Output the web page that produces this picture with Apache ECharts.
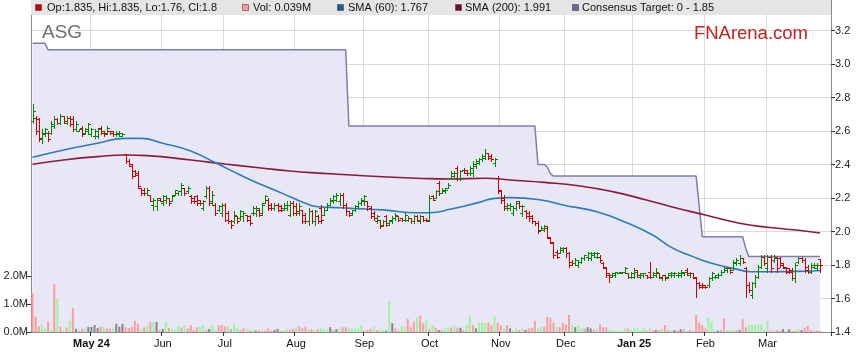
<!DOCTYPE html>
<html><head><meta charset="utf-8">
<script src="https://cdn.jsdelivr.net/npm/echarts@6/dist/echarts.min.js"></script>
<style>html,body{margin:0;padding:0;background:#fff}#c{width:859px;height:363px}</style>
</head><body><div id="c"></div>
<script>
// ---- categories: trading-day slots starting 2024-04-04 ----
const startDate = [2024, 3, 4];
const slotCount = 258;
const monthNames = ['Jan','Feb','Mar','Apr','May','Jun','Jul','Aug','Sep','Oct','Nov','Dec'];

// ---- OHLC values ----
const open = [
2.66,2.68,2.67,2.55,2.58,2.59,2.59,2.63,2.67,2.65, 2.69,2.65,2.68,2.67,2.61,2.60,2.62,2.59,2.60,2.58,
2.57,2.57,2.62,2.60,2.59,2.60,2.60,2.58,2.58,2.57, 2.46,2.42,2.39,2.36,2.35,2.26,2.25,2.23,2.22,2.16,
2.15,2.20,2.17,2.19,2.20,2.18,2.22,2.23,2.24,2.26, 2.24,2.21,2.20,2.21,2.19,2.14,2.21,2.26,2.18,2.16,
2.13,2.11,2.16,2.11,2.06,2.06,2.09,2.08,2.09,2.10, 2.09,2.11,2.11,2.13,2.11,2.17,2.19,2.16,2.14,2.16,
2.15,2.14,2.14,2.10,2.17,2.15,2.11,2.13,2.10,2.06, 2.12,2.06,2.09,2.14,2.10,2.13,2.16,2.18,2.19,2.18,
2.22,2.16,2.12,2.11,2.13,2.15,2.17,2.18,2.18,2.14, 2.11,2.06,2.07,2.04,2.09,2.05,2.06,2.08,2.09,2.08,
2.07,2.07,2.08,2.06,2.09,2.06,2.09,2.07,2.07,2.21, 2.20,2.29,2.23,2.24,2.26,2.32,2.33,2.38,2.32,2.37,
2.37,2.35,2.35,2.39,2.41,2.43,2.44,2.47,2.45,2.41, 2.32,2.24,2.20,2.14,2.14,2.11,2.14,2.18,2.11,2.12,
2.11,2.09,2.06,2.05,2.01,2.01,2.02,1.96,1.93,1.88, 1.87,1.89,1.90,1.87,1.82,1.81,1.80,1.82,1.84,1.85,
1.84,1.86,1.85,1.85,1.81,1.78,1.75,1.74,1.74,1.75, 1.75,1.76,1.75,1.73,1.73,1.77,1.73,1.74,1.74,1.76,
1.73,1.74,1.75,1.72,1.74,1.73,1.74,1.74,1.74,1.74, 1.75,1.77,1.74,1.75,1.72,1.69,1.68,1.68,1.68,1.72,
1.73,1.73,1.74,1.76,1.77,1.78,1.77,1.81,1.81,1.84, 1.78,1.68,1.62,1.69,1.73,1.79,1.85,1.78,1.85,1.83,
1.84,1.84,1.81,1.78,1.78,1.77,1.72,1.82,1.84,1.83, 1.79,1.76,1.79,1.78,1.835];
const high = [
2.76,2.69,2.68,2.61,2.62,2.60,2.66,2.69,2.68,2.70, 2.69,2.69,2.69,2.69,2.66,2.61,2.63,2.62,2.65,2.62,
2.61,2.62,2.63,2.60,2.63,2.60,2.60,2.60,2.60,2.59, 2.46,2.43,2.40,2.37,2.36,2.26,2.26,2.26,2.22,2.20,
2.20,2.20,2.22,2.22,2.20,2.22,2.25,2.24,2.29,2.26, 2.27,2.22,2.21,2.22,2.19,2.19,2.27,2.27,2.24,2.17,
2.16,2.17,2.17,2.12,2.07,2.12,2.09,2.13,2.12,2.10, 2.10,2.15,2.15,2.14,2.17,2.22,2.20,2.17,2.17,2.17,
2.16,2.17,2.18,2.18,2.18,2.17,2.17,2.13,2.11,2.14, 2.13,2.13,2.10,2.16,2.14,2.17,2.20,2.22,2.23,2.23,
2.23,2.17,2.12,2.13,2.16,2.18,2.20,2.22,2.18,2.15, 2.12,2.10,2.07,2.07,2.10,2.07,2.09,2.11,2.09,2.08,
2.11,2.09,2.08,2.10,2.10,2.10,2.09,2.08,2.22,2.22, 2.25,2.30,2.26,2.26,2.29,2.36,2.36,2.39,2.37,2.38,
2.37,2.39,2.42,2.43,2.44,2.46,2.49,2.47,2.46,2.44, 2.33,2.25,2.22,2.17,2.17,2.15,2.18,2.18,2.16,2.13,
2.12,2.10,2.06,2.06,2.03,2.04,2.03,1.97,1.94,1.89, 1.91,1.91,1.91,1.88,1.83,1.84,1.83,1.85,1.86,1.88,
1.88,1.88,1.88,1.86,1.82,1.79,1.75,1.75,1.76,1.76, 1.76,1.79,1.75,1.76,1.78,1.77,1.75,1.75,1.74,1.82,
1.76,1.78,1.75,1.74,1.74,1.75,1.76,1.76,1.76,1.77, 1.76,1.78,1.76,1.75,1.73,1.70,1.69,1.68,1.73,1.76,
1.74,1.75,1.77,1.79,1.79,1.78,1.83,1.84,1.86,1.84, 1.79,1.70,1.70,1.74,1.80,1.86,1.86,1.86,1.86,1.86,
1.85,1.85,1.81,1.79,1.78,1.78,1.81,1.85,1.85,1.84, 1.80,1.81,1.81,1.81,1.835];
const low = [
2.65,2.58,2.54,2.53,2.57,2.54,2.58,2.62,2.64,2.64, 2.65,2.64,2.63,2.60,2.60,2.60,2.57,2.58,2.58,2.57,
2.56,2.56,2.58,2.57,2.58,2.58,2.57,2.57,2.57,2.57, 2.41,2.39,2.32,2.33,2.26,2.22,2.22,2.22,2.18,2.13,
2.13,2.18,2.16,2.17,2.16,2.18,2.22,2.22,2.22,2.22, 2.23,2.17,2.17,2.16,2.16,2.13,2.20,2.16,2.16,2.10,
2.12,2.09,2.06,2.05,2.02,2.05,2.05,2.07,2.06,2.06, 2.04,2.10,2.09,2.09,2.10,2.17,2.13,2.13,2.13,2.12,
2.12,2.13,2.13,2.09,2.10,2.10,2.10,2.05,2.05,2.04, 2.05,2.04,2.05,2.05,2.10,2.13,2.16,2.17,2.18,2.16,
2.14,2.10,2.09,2.10,2.12,2.14,2.16,2.16,2.13,2.08, 2.07,2.05,2.02,2.03,2.03,2.04,2.05,2.07,2.06,2.06,
2.06,2.06,2.05,2.05,2.06,2.05,2.06,2.06,2.06,2.19, 2.20,2.22,2.23,2.23,2.26,2.32,2.32,2.31,2.31,2.35,
2.34,2.34,2.33,2.38,2.40,2.42,2.43,2.43,2.42,2.39, 2.23,2.17,2.13,2.13,2.13,2.10,2.13,2.14,2.09,2.08,
2.06,2.05,2.04,1.99,2.01,2.00,1.96,1.93,1.84,1.84, 1.87,1.88,1.85,1.79,1.80,1.80,1.79,1.81,1.83,1.83,
1.83,1.85,1.84,1.82,1.78,1.73,1.70,1.73,1.73,1.75, 1.75,1.75,1.72,1.72,1.72,1.73,1.72,1.73,1.72,1.72,
1.73,1.73,1.72,1.71,1.71,1.72,1.73,1.73,1.73,1.73, 1.74,1.74,1.73,1.72,1.61,1.66,1.66,1.66,1.67,1.71,
1.72,1.72,1.74,1.76,1.76,1.75,1.77,1.80,1.80,1.81, 1.61,1.64,1.60,1.67,1.72,1.78,1.80,1.76,1.76,1.82,
1.76,1.79,1.78,1.75,1.75,1.71,1.70,1.81,1.82,1.76, 1.75,1.75,1.78,1.77,1.76];
const close = [
2.72,2.60,2.56,2.59,2.61,2.55,2.64,2.67,2.65,2.69, 2.66,2.68,2.64,2.61,2.64,2.61,2.58,2.61,2.64,2.61,
2.60,2.61,2.59,2.58,2.62,2.59,2.58,2.59,2.59,2.58, 2.42,2.40,2.33,2.34,2.27,2.23,2.23,2.25,2.18,2.19,
2.19,2.18,2.21,2.20,2.17,2.21,2.25,2.24,2.28,2.23, 2.26,2.18,2.18,2.17,2.17,2.18,2.26,2.17,2.22,2.11,
2.15,2.16,2.07,2.06,2.04,2.10,2.06,2.12,2.11,2.07, 2.05,2.14,2.14,2.10,2.16,2.21,2.14,2.14,2.16,2.13,
2.13,2.16,2.16,2.17,2.11,2.12,2.15,2.06,2.06,2.12, 2.06,2.12,2.06,2.07,2.13,2.16,2.19,2.21,2.22,2.22,
2.16,2.12,2.10,2.13,2.15,2.17,2.19,2.21,2.15,2.09, 2.08,2.09,2.03,2.06,2.04,2.07,2.08,2.10,2.07,2.07,
2.10,2.08,2.06,2.09,2.07,2.09,2.07,2.06,2.20,2.19, 2.24,2.23,2.25,2.25,2.28,2.35,2.35,2.32,2.36,2.35,
2.35,2.38,2.40,2.42,2.43,2.45,2.47,2.44,2.43,2.43, 2.25,2.19,2.15,2.16,2.15,2.14,2.17,2.15,2.15,2.09,
2.08,2.06,2.05,2.00,2.02,2.03,1.97,1.94,1.86,1.85, 1.90,1.90,1.87,1.80,1.81,1.83,1.82,1.84,1.86,1.87,
1.87,1.87,1.87,1.83,1.79,1.74,1.73,1.75,1.76,1.76, 1.76,1.78,1.73,1.75,1.76,1.74,1.75,1.75,1.73,1.73,
1.75,1.76,1.73,1.74,1.72,1.75,1.75,1.75,1.75,1.76, 1.76,1.75,1.75,1.73,1.69,1.67,1.67,1.67,1.72,1.75,
1.74,1.74,1.76,1.78,1.78,1.76,1.82,1.83,1.84,1.82, 1.68,1.65,1.69,1.73,1.79,1.85,1.81,1.85,1.78,1.85,
1.78,1.80,1.79,1.76,1.76,1.72,1.80,1.84,1.83,1.77, 1.76,1.80,1.80,1.80,1.80];

// ---- volume (millions) and direction (1 up, -1 down, 0 unchanged) ----
const volume = [
1.40,0.55,0.21,0.25,0.12,0.37,0.07,1.71,1.18,0.19, 0.07,0.15,0.39,0.86,0.11,0.03,0.11,0.11,0.18,0.18,
0.25,0.14,0.18,0.18,0.12,0.12,0.12,0.29,0.19,0.29, 0.18,0.14,0.18,0.40,0.29,0.10,0.17,0.24,0.36,0.36,
0.36,0.07,0.11,0.36,0.15,0.12,0.08,0.21,0.15,0.24, 0.12,0.25,0.07,0.17,0.17,0.25,0.07,0.11,0.25,0.07,
0.24,0.24,0.21,0.21,0.11,0.29,0.13,0.07,0.13,0.11, 0.05,0.07,0.05,0.05,0.07,0.05,0.13,0.05,0.07,0.11,
0.04,0.07,0.11,0.07,0.11,0.15,0.19,0.13,0.19,0.10, 0.10,0.07,0.10,0.13,0.10,0.10,0.17,0.07,0.10,0.12,
0.17,0.17,0.13,0.13,0.13,0.13,0.25,0.05,0.07,0.11, 0.19,0.07,0.07,0.07,0.05,1.10,0.31,0.13,0.05,0.19,
0.19,0.46,0.17,0.37,0.51,0.58,0.31,0.43,0.11,0.25, 0.15,0.07,0.07,0.15,0.15,0.15,0.25,0.15,0.15,0.07,
0.25,0.58,0.25,0.13,0.33,0.33,0.33,0.33,0.23,0.55, 0.33,0.25,0.13,0.25,0.13,0.07,0.13,0.07,0.13,0.07,
0.13,0.13,0.40,0.13,0.17,0.19,0.55,0.51,0.33,0.17, 0.17,0.33,0.27,0.61,0.25,0.17,0.23,0.13,0.13,0.17,
0.13,0.07,0.13,0.27,0.17,0.17,0.07,0.07,0.03,0.05, 0.03,0.13,0.13,0.07,0.13,0.13,0.07,0.17,0.05,0.13,
0.07,0.07,0.07,0.11,0.25,0.07,0.05,0.07,0.05,0.10, 0.10,0.05,0.07,0.05,0.61,0.33,0.25,0.13,0.52,0.37,
0.07,0.05,0.07,0.49,0.07,0.07,0.05,0.07,0.07,0.46, 0.17,0.25,0.27,0.25,0.27,0.27,0.05,0.39,0.05,0.05,
0.07,0.04,0.10,0.04,0.10,0.04,0.05,0.10,0.07,0.15, 0.21,0.07,0.05,0.05,0.039];
const volDir = [
-1,-1,-1,1,1,-1,1,-1,1,-1, 1,-1,1,-1,0,-1,-1,1,0,0,
0,0,-1,1,-1,-1,1,0,0,0, -1,-1,-1,-1,-1,1,-1,1,-1,1,
0,-1,0,1,-1,1,1,1,-1,1, -1,-1,-1,-1,1,1,-1,0,1,1,
-1,-1,-1,1,-1,1,1,-1,-1,1, -1,1,0,-1,1,-1,-1,-1,0,0,
-1,1,1,-1,-1,1,-1,-1,-1,1, -1,1,-1,1,1,1,0,-1,0,1,
-1,-1,1,1,1,1,1,-1,-1,-1, 1,-1,1,1,0,1,0,-1,-1,1,
1,-1,-1,-1,1,-1,-1,1,-1,1, -1,0,-1,1,1,-1,1,-1,0,-1,
1,1,-1,0,1,1,1,-1,-1,1, -1,-1,1,-1,0,1,1,-1,1,0,
-1,-1,-1,1,1,-1,-1,-1,-1,1, -1,-1,-1,-1,1,0,1,1,-1,0,
0,-1,1,-1,-1,-1,1,1,1,1, 1,1,-1,1,1,1,1,1,-1,1,
-1,0,-1,1,-1,-1,1,0,-1,0, -1,1,-1,1,-1,-1,-1,-1,1,1,
1,0,-1,-1,1,1,1,-1,0,-1, -1,1,1,1,1,1,-1,1,-1,1,
-1,-1,0,1,0,-1,-1,1,0,-1, -1,-1,1,-1,-1];

// ---- moving averages and consensus target: [slot index, value] ----
const sma60 = [[0,2.443],[10,2.487],[21,2.527],[30,2.556],[35,2.556],[42,2.527],[51,2.48],[59,2.41],[67,2.337],
[72,2.294],[78,2.248],[83,2.208],[88,2.168],[92,2.148],[99,2.142],[103,2.138],[113,2.129],[124,2.112],[128,2.112],
[135,2.134],[144,2.174],[149,2.198],[154,2.202],[164,2.188],[171,2.158],[182,2.118],[192,2.049],[200,1.979],
[206,1.905],[213,1.85],[219,1.81],[226,1.78],[232,1.76],[238,1.76],[249,1.763],[254,1.767]];
const sma200 = [[0,2.401],[10,2.427],[21,2.447],[30,2.457],[37,2.453],[51,2.427],[62,2.403],[73,2.381],[83,2.361],
[94,2.347],[103,2.337],[113,2.327],[124,2.318],[135,2.313],[146,2.318],[154,2.307],[165,2.293],[176,2.273],
[187,2.238],[198,2.188],[206,2.148],[217,2.098],[228,2.049],[237,2.025],[249,2.003],[254,1.991]];
const target = [[0,3.124],[4,3.124],[5,3.085],[101,3.085],[102,2.63],[162,2.63],[163,2.40],[165,2.40],[166,2.385],
[167,2.345],[168,2.331],[214,2.331],[215,2.15],[216,1.969],[229,1.969],[230,1.90],[231,1.85],[254,1.85]];

const priceTicks = [1.4,1.6,1.8,2.0,2.2,2.4,2.6,2.8,3.0,3.2];
const volTicks = [0,1,2];

// ---- build ----
const FONT = '"Liberation Sans", Arial, sans-serif';
const dates = [];
(function(){ const d = new Date(Date.UTC(startDate[0], startDate[1], startDate[2]));
  while (dates.length < slotCount) { const w = d.getUTCDay(); if (w !== 0 && w !== 6) dates.push(d.toISOString().slice(0,10)); d.setUTCDate(d.getUTCDate()+1); } })();
function isMonthStart(i){ return i > 0 && dates[i].slice(5,7) !== dates[i-1].slice(5,7); }
let firstMonthIdx = -1;
for (let i = 0; i < dates.length; i++) { if (isMonthStart(i)) { firstMonthIdx = i; break; } }
function monthLabel(i){
  const m = +dates[i].slice(5,7) - 1;
  if (i === firstMonthIdx || m === 0) return '{b|' + monthNames[m] + ' ' + dates[i].slice(2,4) + '}';
  return monthNames[m];
}
const ohlc = close.map((c,i) => [i, open[i], high[i], low[i], c]);
const volData = volume.map((v,i) => ({value: [i, v], itemStyle: {color: volDir[i] > 0 ? '#9cf59c' : (volDir[i] < 0 ? '#ff9d9d' : '#858585')}}));

const chart = echarts.init(document.getElementById('c'), null, {renderer: 'canvas', width: 859, height: 363});
const legendItems = [
  {sx: 35, tx: 47, color: '#cc0000', text: 'Op:1.835, Hi:1.835, Lo:1.76, Cl:1.8'},
  {sx: 242, tx: 253, color: '#ff9999', text: 'Vol: 0.039M'},
  {sx: 337, tx: 348, color: '#1a5e9a', text: 'SMA (60): 1.767'},
  {sx: 455, tx: 465, color: '#7a0a28', text: 'SMA (200): 1.991'},
  {sx: 572, tx: 582, color: '#6a6a9c', text: 'Consensus Target: 0 - 1.85'}
];
const graphics = [{type: 'rect', shape: {x: 31, y: 0, width: 800, height: 15}, style: {fill: '#e5e5e5'}, z: 100}];
legendItems.forEach(it => {
  graphics.push({type: 'rect', shape: {x: it.sx + 0.5, y: 4.5, width: 6, height: 6}, style: {fill: it.color, stroke: '#444', lineWidth: 0.6}, z: 101});
  graphics.push({type: 'text', x: it.tx, y: 8, style: {text: it.text, fontSize: 11, fontFamily: FONT, fill: '#111', verticalAlign: 'middle'}, z: 101});
});
graphics.push({type: 'text', x: 42, y: 33, style: {text: 'ASG', fontSize: 19, fontFamily: FONT, fill: '#707070', verticalAlign: 'middle'}, z: 101});
graphics.push({type: 'text', x: 808, y: 34, style: {text: 'FNArena.com', fontSize: 18.5, fontFamily: FONT, fill: '#c41e1e', align: 'right', verticalAlign: 'middle'}, z: 101});

chart.setOption({
  animation: false,
  backgroundColor: '#ffffff',
  grid: {left: 31, right: 28, top: 0, bottom: 31, containLabel: false},
  xAxis: {
    type: 'category', data: dates, boundaryGap: true,
    axisLine: {show: true, lineStyle: {color: '#8a8a8a'}},
    axisTick: {show: true, interval: (i) => isMonthStart(i), length: 4, lineStyle: {color: '#333'}},
    axisLabel: {interval: (i) => isMonthStart(i), formatter: (v, i) => monthLabel(i), fontSize: 11, fontFamily: FONT, color: '#111', margin: 6,
      rich: {b: {fontWeight: 'bold', fontSize: 11, fontFamily: FONT, color: '#111'}}},
    splitLine: {show: true, interval: (i) => isMonthStart(i), lineStyle: {color: '#d9d9d9', width: 1}}
  },
  yAxis: [
    {type: 'value', position: 'right', min: 1.4, max: 3.382, interval: 0.2,
      axisLine: {show: true, lineStyle: {color: '#8a8a8a'}},
      axisTick: {show: true, length: 4, lineStyle: {color: '#333'}, customValues: priceTicks},
      axisLabel: {customValues: priceTicks, formatter: v => v.toFixed(1), fontSize: 11, fontFamily: FONT, color: '#222', margin: 4},
      splitLine: {show: true, lineStyle: {color: '#d9d9d9', width: 1}}},
    {type: 'value', position: 'left', min: 0, max: 11.857,
      axisLine: {show: true, lineStyle: {color: '#8a8a8a'}},
      axisTick: {show: true, length: 4, lineStyle: {color: '#333'}, customValues: volTicks},
      axisLabel: {customValues: volTicks, formatter: v => v.toFixed(1) + 'M', fontSize: 11, fontFamily: FONT, color: '#222', margin: 3},
      splitLine: {show: false}}
  ],
  series: [
    {name: 'Consensus Target', type: 'line', data: target, yAxisIndex: 0, symbol: 'none', z: 1,
      lineStyle: {color: '#7e7eae', width: 1.5}, areaStyle: {color: '#e7e7f6', opacity: 1, origin: 'start'}},
    {name: 'Vol', type: 'bar', data: volData, yAxisIndex: 1, barWidth: 2, z: 2},
    {name: 'SMA (200)', type: 'line', data: sma200, yAxisIndex: 0, symbol: 'none', smooth: true, z: 3,
      lineStyle: {color: '#8c1a3e', width: 1.6}},
    {name: 'SMA (60)', type: 'line', data: sma60, yAxisIndex: 0, symbol: 'none', smooth: true, z: 3,
      lineStyle: {color: '#2b7bbd', width: 1.6}},
    {name: 'Price', type: 'custom', data: ohlc, yAxisIndex: 0, z: 4, encode: {x: 0, y: [1,2,3,4]},
      renderItem: function (params, api) {
        const i = api.value(0), o = api.value(1), h = api.value(2), l = api.value(3), c = api.value(4);
        const pH = api.coord([i, h]), pL = api.coord([i, l]), pO = api.coord([i, o]), pC = api.coord([i, c]);
        const x = Math.round(pH[0]) + 0.5;
        const col = c >= o ? '#008800' : '#d40000';
        const st = {stroke: col, lineWidth: 1};
        const yo = Math.round(pO[1]) + 0.5, yc = Math.round(pC[1]) + 0.5;
        return {type: 'group', children: [
          {type: 'line', shape: {x1: x, y1: Math.round(pH[1]), x2: x, y2: Math.round(pL[1]) + 1}, style: st},
          {type: 'line', shape: {x1: x - 2.5, y1: yo, x2: x, y2: yo}, style: st},
          {type: 'line', shape: {x1: x, y1: yc, x2: x + 2.5, y2: yc}, style: st}
        ]};
      }}
  ],
  graphic: graphics
});
</script></body></html>
